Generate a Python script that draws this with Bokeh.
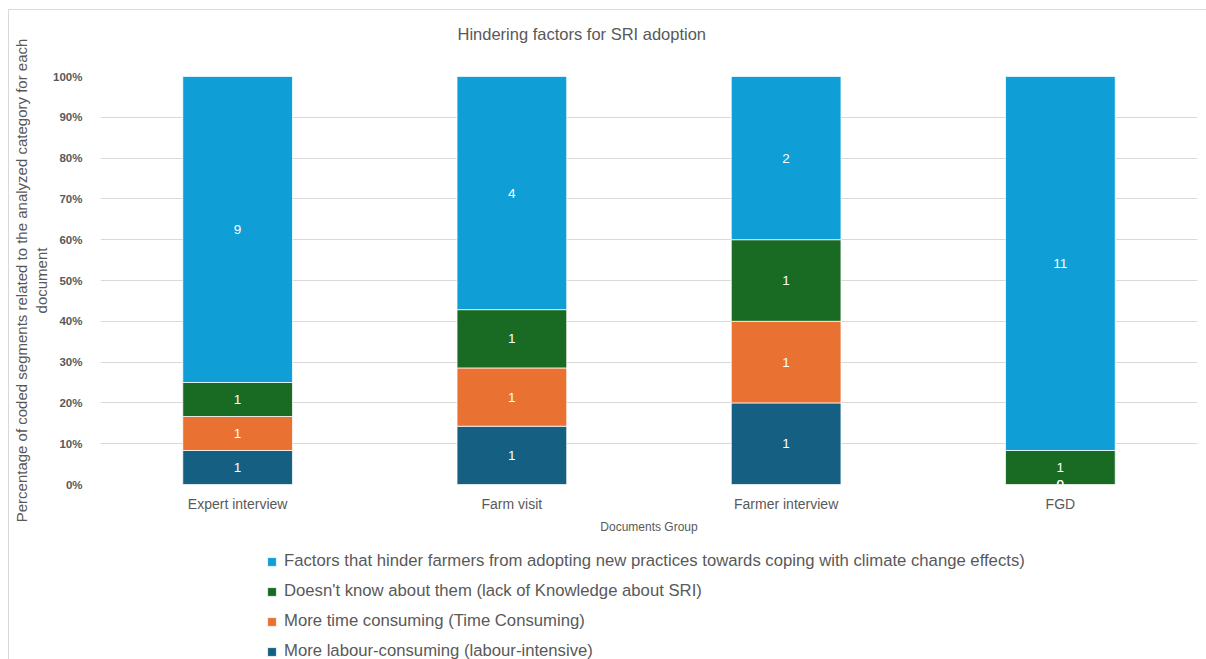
from bokeh.plotting import figure
from bokeh.layouts import column
from bokeh.models import (ColumnDataSource, FactorRange, Range1d, NumeralTickFormatter,
                          Legend, LegendItem, FixedTicker, Title)
from bokeh.core.properties import value
from bokeh.embed import file_html
from bokeh.resources import INLINE

categories = ["Expert interview", "Farm visit", "Farmer interview", "FGD"]
labour = [1, 1, 1, 0]
time_cons = [1, 1, 1, 0]
knowledge = [1, 1, 1, 1]
factors = [9, 4, 2, 11]

series_names = ["labour", "time", "knowledge", "factors"]
series_vals = [labour, time_cons, knowledge, factors]
series_labels = [
    "More labour-consuming (labour-intensive)",
    "More time consuming (Time Consuming)",
    "Doesn't know about them (lack of Knowledge about SRI)",
    "Factors that hinder farmers from adopting new practices towards coping with climate change effects)",
]
colors = ["#156082", "#E97132", "#196B24", "#0F9ED5"]

totals = [sum(v) for v in zip(*series_vals)]
data = {"cat": categories}
for n, vals in zip(series_names, series_vals):
    data[n] = [v / t for v, t in zip(vals, totals)]
src = ColumnDataSource(data)

FONT = "Liberation Sans"
GREY = "#595959"

p = figure(x_range=FactorRange(*categories, range_padding=0), y_range=Range1d(0, 1),
           width=1197, height=540, output_backend="svg", toolbar_location=None)
p.min_border_left = 91
p.min_border_right = 9
p.min_border_top = 66
p.min_border_bottom = 66
p.outline_line_color = None

spacer = Title(text=" ", text_font_size="29px", standoff=0)
p.add_layout(spacer, "above")
title = Title(text="Hindering factors for SRI adoption", text_font=FONT,
              text_font_size="16.5px", text_font_style="normal", text_color=GREY,
              align="left", offset=357, standoff=0)
p.add_layout(title, "above")

rends = p.vbar_stack(series_names, x="cat", width=0.4, color=colors, source=src,
                     line_color="white", line_width=0.75)

# data labels
lx, ly, lt = [], [], []
cum = [0.0] * len(categories)
for n, vals in zip(series_names, series_vals):
    for i, c in enumerate(categories):
        pct = data[n][i]
        lx.append(c)
        ly.append(cum[i] + pct / 2)
        lt.append(str(vals[i]))
        cum[i] += pct
lsrc = ColumnDataSource(dict(x=lx, y=ly, t=lt))
p.text(x="x", y="y", text="t", source=lsrc, text_color="white", text_align="center",
       text_baseline="middle", text_font=value(FONT), text_font_size="13.5px")

# axes
p.yaxis.ticker = FixedTicker(ticks=[i / 10 for i in range(11)])
p.yaxis.formatter = NumeralTickFormatter(format="0%")
p.yaxis.major_label_text_font = FONT
p.yaxis.major_label_text_font_style = "bold"
p.yaxis.major_label_text_font_size = "11.5px"
p.yaxis.major_label_text_color = GREY
p.yaxis.axis_line_color = None
p.yaxis.major_tick_line_color = None
p.yaxis.minor_tick_line_color = None
p.yaxis.major_label_standoff = 12
p.yaxis.axis_label = "Percentage of coded segments related to the analyzed category for each\ndocument"
p.yaxis.axis_label_text_font = FONT
p.yaxis.axis_label_text_font_style = "normal"
p.yaxis.axis_label_text_font_size = "15px"
p.yaxis.axis_label_text_color = GREY
p.yaxis.axis_label_standoff = 0

p.xaxis.major_label_text_font = FONT
p.xaxis.major_label_text_font_size = "14px"
p.xaxis.major_label_text_color = GREY
p.xaxis.axis_line_color = None
p.xaxis.major_tick_line_color = None
p.xaxis.minor_tick_line_color = None
p.xaxis.major_label_standoff = 5
p.xaxis.axis_label = "Documents Group"
p.xaxis.axis_label_text_font = FONT
p.xaxis.axis_label_text_font_style = "normal"
p.xaxis.axis_label_text_font_size = "12px"
p.xaxis.axis_label_text_color = GREY
p.xaxis.axis_label_standoff = 5

p.xgrid.grid_line_color = None
p.ygrid.grid_line_color = "#d9d9d9"

# legend panel below the chart (bars here sit outside the visible range)
p2 = figure(x_range=FactorRange(*categories, range_padding=0), y_range=Range1d(2, 3),
            width=1197, height=109, output_backend="svg", toolbar_location=None,
            x_axis_location=None, y_axis_location=None)
p2.min_border = 0
p2.outline_line_color = None
p2.grid.grid_line_color = None
rends2 = p2.vbar_stack(series_names, x="cat", width=0.4, color=colors, source=src,
                       line_color="white", line_width=0.75)

items = [LegendItem(label=lab, renderers=[r]) for lab, r in zip(series_labels, rends2)][::-1]
legend = Legend(items=items, location=(166, -2), orientation="vertical",
                glyph_width=11, glyph_height=11, label_height=20, spacing=10,
                label_standoff=7, padding=0, margin=0,
                label_text_font=FONT, label_text_font_size="16.7px", label_text_color=GREY,
                border_line_color=None, background_fill_alpha=0)
p2.add_layout(legend, "center")

layout = column(p, p2, spacing=0)
layout.margin = (9, 0, 0, 8)
layout.styles = {"border-left": "1px solid #d9d9d9", "border-top": "1px solid #d9d9d9"}

open("out.html", "w").write(file_html(layout, INLINE))
